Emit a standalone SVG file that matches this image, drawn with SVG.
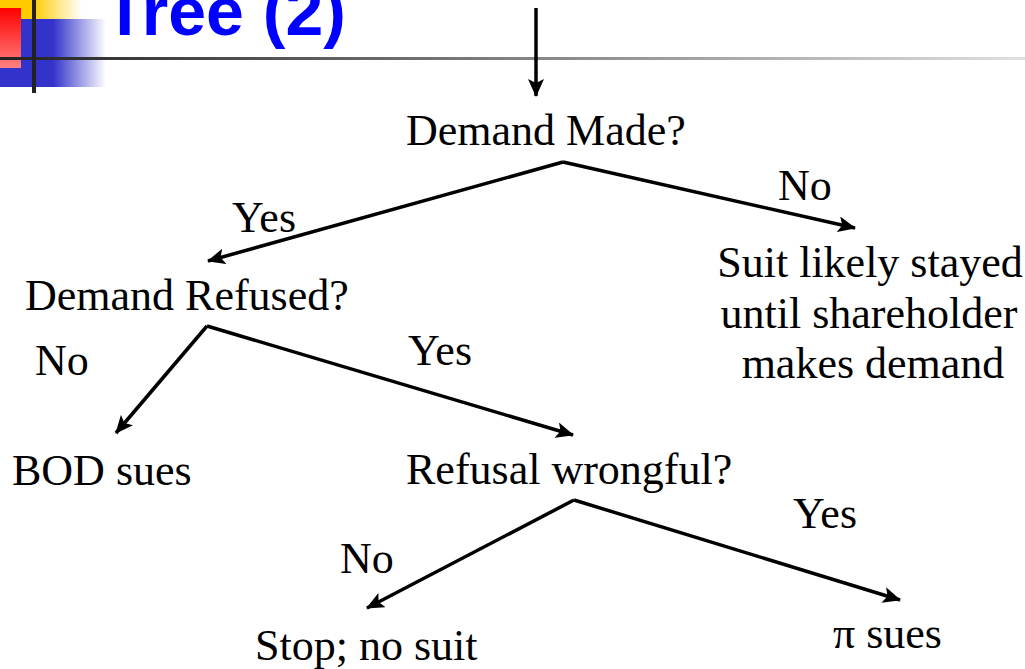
<svg xmlns="http://www.w3.org/2000/svg" width="1025" height="669" viewBox="0 0 1025 669">
<style>
.t{font-family:"Liberation Serif","Times New Roman",serif;font-size:44px;fill:#000}
.c{stroke:#000;stroke-width:3.5;fill:none;marker-end:url(#ah)}
</style>
<defs>
<marker id="ah" markerUnits="userSpaceOnUse" markerWidth="20" markerHeight="16" refX="17" refY="8" orient="auto">
<path d="M0,0 L18,8 L0,16 L4,8 Z" fill="#000"/>
</marker>
<linearGradient id="gy" x1="0" x2="1" y1="0" y2="0"><stop offset="0.4" stop-color="#FFCC00"/><stop offset="1" stop-color="#FFCC00" stop-opacity="0"/></linearGradient>
<linearGradient id="gb" x1="0" x2="1" y1="0" y2="0"><stop offset="0.5" stop-color="#3333CC"/><stop offset="1" stop-color="#3333CC" stop-opacity="0"/></linearGradient>
<linearGradient id="gr" x1="0" x2="0" y1="0" y2="1"><stop offset="0" stop-color="#FF0000"/><stop offset="1" stop-color="#FF8080"/></linearGradient>
<linearGradient id="gl" x1="0" x2="1" y1="0" y2="0"><stop offset="0" stop-color="#222"/><stop offset="1" stop-color="#E0E0E0"/></linearGradient>
</defs>
<g id="decor">
<rect x="0" y="0" width="82" height="19" fill="url(#gy)"/>
<rect x="0" y="19" width="106" height="68" fill="url(#gb)"/>
<rect x="0" y="8" width="21" height="60" fill="url(#gr)"/>
<rect x="0" y="57" width="1025" height="3" fill="url(#gl)"/>
<rect x="32" y="0" width="4" height="93" fill="#222"/>
<text x="104" y="35" font-family="Liberation Sans,Arial,sans-serif" font-weight="bold" font-size="68" fill="#0000FF">Tree (2)</text>
</g>
<g id="connectors">
<line class="c" x1="536" y1="8" x2="536" y2="96"/>
<polyline class="c" points="563,162 208,261"/>
<polyline class="c" points="563,162 855,228"/>
<polyline class="c" points="207,326 116,433"/>
<polyline class="c" points="207,326 573,435"/>
<polyline class="c" points="574,500 367,608"/>
<polyline class="c" points="574,500 900,600"/>
</g>
<g id="labels">
<text class="t" x="232" y="232">Yes</text>
<text class="t" x="778" y="200">No</text>
<text class="t" x="35" y="375">No</text>
<text class="t" x="408" y="365">Yes</text>
<text class="t" x="793" y="528">Yes</text>
<text class="t" x="340" y="573">No</text>
</g>
<g id="n-demand-made"><text class="t" x="406" y="145">Demand Made?</text></g>
<g id="n-suit-stayed">
<text class="t" x="870" y="277" text-anchor="middle">Suit likely stayed</text>
<text class="t" x="869" y="328" text-anchor="middle">until shareholder</text>
<text class="t" x="873" y="378" text-anchor="middle">makes demand</text>
</g>
<g id="n-demand-refused"><text class="t" x="25" y="310">Demand Refused?</text></g>
<g id="n-bod-sues"><text class="t" x="12" y="485">BOD sues</text></g>
<g id="n-refusal-wrongful"><text class="t" x="406" y="484">Refusal wrongful?</text></g>
<g id="n-stop"><text class="t" x="255" y="660">Stop; no suit</text></g>
<g id="n-pi-sues"><text class="t" x="833" y="648">π sues</text></g>
</svg>
